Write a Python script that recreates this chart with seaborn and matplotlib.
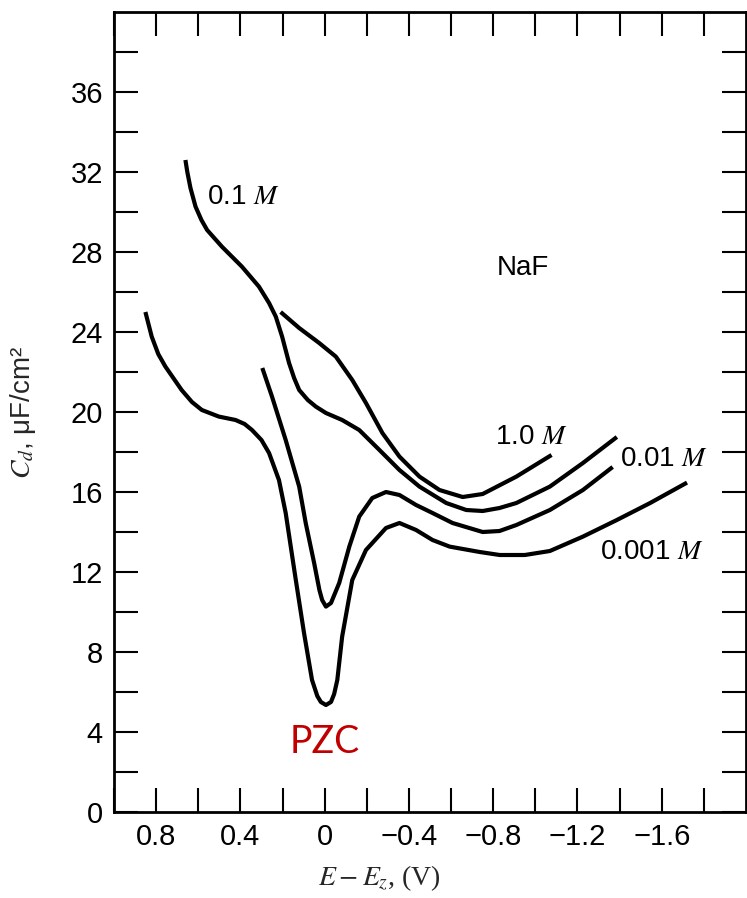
import matplotlib
matplotlib.use("Agg")
import matplotlib.pyplot as plt
import seaborn as sns
import pandas as pd

sns.set_theme(style="white")
plt.rcParams['font.family'] = ['Liberation Sans', 'DejaVu Sans']
plt.rcParams['mathtext.fontset'] = 'stix'

# ---- data ----
x_01 = [0.661, 0.652, 0.637, 0.613, 0.585, 0.558, 0.488, 0.393, 0.312, 0.264, 0.232, 0.202, 0.169, 0.145, 0.121, 0.08, 0.042,
        -0.006, -0.083, -0.164, -0.26, -0.355, -0.45, -0.577, -0.672, -0.75, -0.83, -0.91, -1.069, -1.226, -1.387]
y_01 = [32.6, 32.0, 31.2, 30.27, 29.6, 29.1, 28.27, 27.27, 26.27, 25.45, 24.77, 23.77, 22.45, 21.7, 21.1, 20.6, 20.27,
        19.95, 19.6, 19.1, 18.1, 17.1, 16.27, 15.45, 15.1, 15.05, 15.2, 15.45, 16.27, 17.45, 18.75]

x_10 = [0.209, 0.121, 0.026, -0.053, -0.131, -0.196, -0.274, -0.355, -0.45, -0.545, -0.655, -0.75, -0.91, -1.077]
y_10 = [25.0, 24.2, 23.45, 22.77, 21.6, 20.45, 18.95, 17.77, 16.77, 16.1, 15.75, 15.9, 16.77, 17.85]

x_001 = [0.296, 0.25, 0.185, 0.121, 0.09, 0.05, 0.025, 0.012, -0.006, -0.03, -0.069, -0.117, -0.164, -0.226,
         -0.291, -0.355, -0.434, -0.512, -0.607, -0.75, -0.83, -0.91, -1.069, -1.226, -1.367]
y_001 = [22.2, 20.77, 18.6, 16.27, 14.45, 12.45, 11.1, 10.6, 10.27, 10.45, 11.45, 13.27, 14.77, 15.7,
         16.0, 15.85, 15.35, 14.95, 14.45, 14.0, 14.05, 14.35, 15.1, 16.1, 17.25]

x_0001 = [0.851, 0.821, 0.79, 0.756, 0.679, 0.63, 0.583, 0.502, 0.423, 0.38, 0.345, 0.30, 0.264, 0.217, 0.185, 0.137, 0.098,
          0.06, 0.035, 0.018, -0.006, -0.03, -0.045, -0.06, -0.083, -0.131, -0.196, -0.291, -0.355, -0.434, -0.512,
          -0.593, -0.736, -0.831, -0.95, -1.069, -1.226, -1.387, -1.545, -1.72]
y_0001 = [25.0, 23.77, 22.9, 22.27, 21.1, 20.5, 20.1, 19.77, 19.6, 19.4, 19.1, 18.6, 17.95, 16.6, 14.95, 11.6, 8.95,
          6.6, 5.8, 5.5, 5.35, 5.5, 5.9, 6.6, 8.77, 11.6, 13.1, 14.2, 14.45, 14.1, 13.6,
          13.27, 13.0, 12.85, 12.85, 13.05, 13.77, 14.6, 15.45, 16.47]

x_major = [0.8, 0.4, 0.0, -0.4, -0.8, -1.2, -1.6]
x_labels = ["0.8", "0.4", "0", "\u22120.4", "\u22120.8", "\u22121.2", "\u22121.6"]
x_minor = [1.0, 0.8, 0.6, 0.4, 0.2, 0.0, -0.2, -0.4, -0.6, -0.8, -1.0, -1.2, -1.4, -1.6, -1.8]
y_major = [0, 4, 8, 12, 16, 20, 24, 28, 32, 36]
y_minor = [2, 6, 10, 14, 18, 22, 26, 30, 34, 38]

fig = plt.figure(figsize=(7.47, 8.98), dpi=100)
ax = fig.add_axes([114/747, 86/898, 632/747, 800/898])

for xs, ys in [(x_01, y_01), (x_10, y_10), (x_001, y_001), (x_0001, y_0001)]:
    df = pd.DataFrame({"x": xs, "y": ys})
    sns.lineplot(data=df, x="x", y="y", sort=False, estimator=None, color="black",
                 linewidth=3.0, ax=ax, solid_capstyle="butt", solid_joinstyle="round")

ax.set_xlim(1.0, -2.0)
ax.set_ylim(0, 40)
ax.set_xticks(x_major)
ax.set_xticklabels(x_labels)
ax.set_xticks(x_minor, minor=True)
ax.set_yticks(y_major)
ax.set_yticks(y_minor, minor=True)
ax.tick_params(which="both", direction="in", length=17, width=1.5, top=True, right=True,
               bottom=True, left=True, labelsize=21, color="black", labelcolor="black")
ax.tick_params(axis="x", pad=8)
ax.tick_params(axis="y", pad=8)
for s in ax.spines.values():
    s.set_visible(True)
    s.set_color("black")
    s.set_linewidth(2.0)

ax.set_xlabel(r"$E - E_z$, (V)", fontsize=20, family="Liberation Serif")
ax.set_ylabel(r"$C_d$, μF/cm²", fontsize=20)
ax.xaxis.set_label_coords(0.42, -0.064)
ax.yaxis.set_label_coords(-0.12, 0.5)

lab = dict(fontsize=20, color="black", va="center", ha="left")
ax.text(0.56, 30.75, r"0.1 $M$", **lab)
ax.text(-0.817, 27.2, "NaF", **lab)
ax.text(-0.807, 18.75, r"1.0 $M$", **lab)
ax.text(-1.40, 17.65, r"0.01 $M$", **lab)
ax.text(-1.307, 13.0, r"0.001 $M$", **lab)
ax.text(0.0, 3.5, "PZC", fontsize=27, color="#C00000", ha="center", va="center", family="Lato")

fig.savefig("out.png", dpi=100)
